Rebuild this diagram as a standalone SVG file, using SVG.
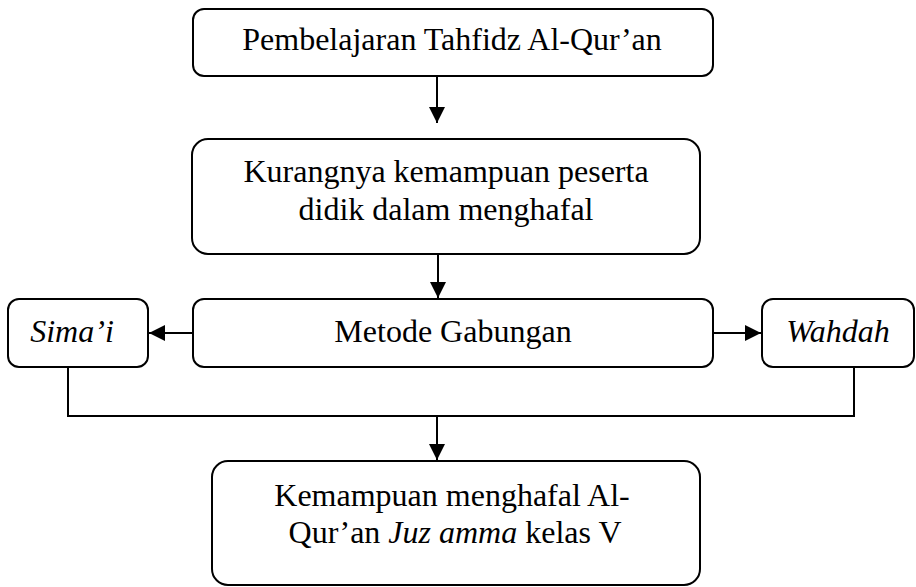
<svg xmlns="http://www.w3.org/2000/svg" width="916" height="587" viewBox="0 0 916 587">
<style>
.box{fill:#fff;stroke:#000;stroke-width:2}
.t{font-family:"Liberation Serif","Times New Roman",serif;font-size:32px;fill:#000;text-anchor:middle}
.i{font-style:italic}
.c{fill:none;stroke:#000;stroke-width:2}
</style>
<defs>
<marker id="ah" markerUnits="userSpaceOnUse" markerWidth="16" markerHeight="16" refX="16" refY="8" orient="auto">
<path d="M0,0 L16,8 L0,16 z" fill="#000"/>
</marker>
</defs>
<rect width="916" height="587" fill="#fff"/>
<g id="connectors">
<line class="c" x1="437" y1="76" x2="437" y2="123" marker-end="url(#ah)"/>
<line class="c" x1="438" y1="254" x2="438" y2="298" marker-end="url(#ah)"/>
<line class="c" x1="193" y1="333" x2="149" y2="333" marker-end="url(#ah)"/>
<line class="c" x1="713" y1="333" x2="761" y2="333" marker-end="url(#ah)"/>
<polyline class="c" points="68,367 68,416 854,416 854,367"/>
<line class="c" x1="437" y1="416" x2="437" y2="460" marker-end="url(#ah)"/>
</g>
<g id="n1">
<rect class="box" x="193" y="9" width="520" height="67" rx="11"/>
<text class="t" x="452" y="50">Pembelajaran Tahfidz Al-Qur’an</text>
</g>
<g id="n2">
<rect class="box" x="192" y="139" width="508" height="115" rx="16"/>
<text class="t" x="446" y="182">Kurangnya kemampuan peserta</text>
<text class="t" x="446" y="220">didik dalam menghafal</text>
</g>
<g id="n3">
<rect class="box" x="193" y="299" width="520" height="68" rx="11"/>
<text class="t" x="453" y="342">Metode Gabungan</text>
</g>
<g id="n4">
<rect class="box" x="8" y="299" width="140" height="68" rx="11"/>
<text class="t i" x="72" y="342">Sima’i</text>
</g>
<g id="n5">
<rect class="box" x="762" y="299" width="152" height="68" rx="11"/>
<text class="t i" x="838" y="342">Wahdah</text>
</g>
<g id="n6">
<rect class="box" x="212" y="461" width="488" height="124" rx="16"/>
<text class="t" x="452" y="506">Kemampuan menghafal Al-</text>
<text class="t" x="455" y="543">Qur’an <tspan class="i">Juz amma</tspan> kelas V</text>
</g>
</svg>
